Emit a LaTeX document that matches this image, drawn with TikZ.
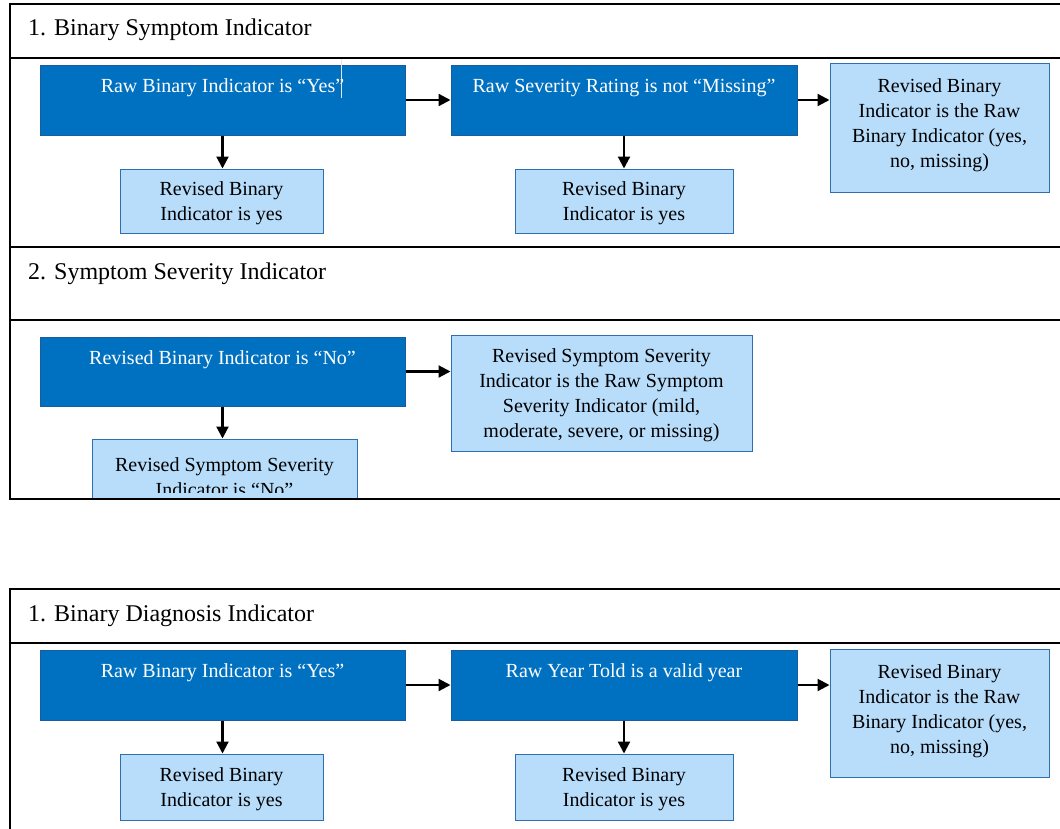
\documentclass[tikz,border=0pt]{standalone}
\usepackage{fontspec}
\setmainfont{Liberation Serif}
\usetikzlibrary{arrows.meta,calc}
\definecolor{darkfill}{HTML}{0070C0}
\definecolor{darkedge}{HTML}{1B5C9E}
\definecolor{lightfill}{HTML}{B8DDFB}
\definecolor{lightedge}{HTML}{2F6FB0}

\begin{document}
\begin{tikzpicture}[x=1pt,y=-1pt,
  frame/.style={line width=2pt, black},
  darkbox/.style={draw=darkedge, fill=darkfill, line width=1pt, inner sep=0pt},
  lightbox/.style={draw=lightedge, fill=lightfill, line width=1pt, inner sep=0pt},
  boxtext/.style={align=center, font=\fontsize{20}{25}\selectfont, inner sep=0pt},
  darktext/.style={boxtext, text=white},
  heading/.style={font=\fontsize{24}{28}\selectfont, anchor=west, inner sep=0pt},
  flow/.style={line width=2.2pt, -{Triangle[length=12pt,width=12pt]}},
]
\useasboundingbox (0,0) rectangle (1060,828);
\clip (0,0) rectangle (1060,828);
\fill[white] (0,0) rectangle (1060,828);

% ---------- Section 1: Binary Symptom Indicator ----------
\node[heading] (h1) at (28,30) {1. Binary Symptom Indicator};

\node[darkbox, minimum width=365pt, minimum height=70pt] (a1) at (222.5,100) {};
\node[darktext] (a1t) at ($(a1.north)+(0,23)$) {Raw Binary Indicator is “Yes”};
\draw[white!80!gray, line width=1pt] (341,57) -- (341,98);

\node[darkbox, minimum width=346pt, minimum height=70pt] (a2) at (624,100) {};
\node[darktext] (a2t) at ($(a2.north)+(0,23)$) {Raw Severity Rating is not “Missing”};

\node[lightbox, minimum width=219pt, minimum height=129pt] (a3) at (939.5,127.5) {};
\node[boxtext] (a3t) at ($(a3.center)+(0,-2)$)
  {Revised Binary\\Indicator is the Raw\\Binary Indicator (yes,\\no, missing)};

\node[lightbox, minimum width=203pt, minimum height=64pt] (b1) at (221.5,201) {};
\node[boxtext] (b1t) at ($(b1.center)+(0,2)$) {Revised Binary\\Indicator is yes};
\node[lightbox, minimum width=218pt, minimum height=64pt] (b2) at (624,201) {};
\node[boxtext] (b2t) at ($(b2.center)+(0,2)$) {Revised Binary\\Indicator is yes};

\draw[flow] (a1.east) -- (a2.west);
\draw[flow] (a2.east) -- (a2.east -| a3.west);
\draw[flow] (a1.south) -- (a1.south |- b1.north);
\draw[flow] (a2.south) -- (a2.south |- b2.north);

% ---------- Section 2: Symptom Severity Indicator ----------
\node[heading] (h2) at (28,274) {2. Symptom Severity Indicator};

\node[darkbox, minimum width=365pt, minimum height=69pt] (c1) at (222.5,371.5) {};
\node[darktext] (c1t) at ($(c1.north)+(0,23)$) {Revised Binary Indicator is “No”};

\node[lightbox, minimum width=301pt, minimum height=116pt] (c2) at (601.5,393) {};
\node[boxtext] (c2t) at ($(c2.center)+(0,2)$)
  {Revised Symptom Severity\\Indicator is the Raw Symptom\\Severity Indicator (mild,\\moderate, severe, or missing)};

\begin{scope}
  \clip (0,0) rectangle (1060,499);
  \node[lightbox, minimum width=265pt, minimum height=70pt] (d1) at (224.5,474) {};
  \clip (0,0) rectangle (1060,492);
  \node[boxtext] (d1t) at (224.5,477) {Revised Symptom Severity\\Indicator is “No”};
\end{scope}

\draw[flow] (c1.east) -- (c1.east -| c2.west);
\draw[flow] (c1.south) -- (c1.south |- d1.north);

% frame of the symptom table
\draw[frame] (1070,4) -- (10,4) -- (10,499) -- (1070,499);
\draw[frame] (10,58) -- (1070,58);
\draw[frame] (10,247) -- (1070,247);
\draw[frame] (10,320) -- (1070,320);

% ---------- Binary Diagnosis Indicator ----------
\node[heading] (h3) at (28,616) {1. Binary Diagnosis Indicator};

\node[darkbox, minimum width=365pt, minimum height=70pt] (e1) at (222.5,685) {};
\node[darktext] (e1t) at ($(e1.north)+(0,23)$) {Raw Binary Indicator is “Yes”};

\node[darkbox, minimum width=346pt, minimum height=70pt] (e2) at (624,685) {};
\node[darktext] (e2t) at ($(e2.north)+(0,23)$) {Raw Year Told is a valid year};

\node[lightbox, minimum width=219pt, minimum height=128pt] (e3) at (939.5,713) {};
\node[boxtext] (e3t) at ($(e3.center)+(0,-2)$)
  {Revised Binary\\Indicator is the Raw\\Binary Indicator (yes,\\no, missing)};

\node[lightbox, minimum width=203pt, minimum height=66pt] (f1) at (221.5,787) {};
\node[boxtext] (f1t) at ($(f1.center)+(0,2)$) {Revised Binary\\Indicator is yes};
\node[lightbox, minimum width=218pt, minimum height=66pt] (f2) at (624,787) {};
\node[boxtext] (f2t) at ($(f2.center)+(0,2)$) {Revised Binary\\Indicator is yes};

\draw[flow] (e1.east) -- (e2.west);
\draw[flow] (e2.east) -- (e2.east -| e3.west);
\draw[flow] (e1.south) -- (e1.south |- f1.north);
\draw[flow] (e2.south) -- (e2.south |- f2.north);

% frame of the diagnosis table
\draw[frame] (1070,589) -- (10,589) -- (10,840);
\draw[frame] (10,643) -- (1070,643);
\end{tikzpicture}
\end{document}
